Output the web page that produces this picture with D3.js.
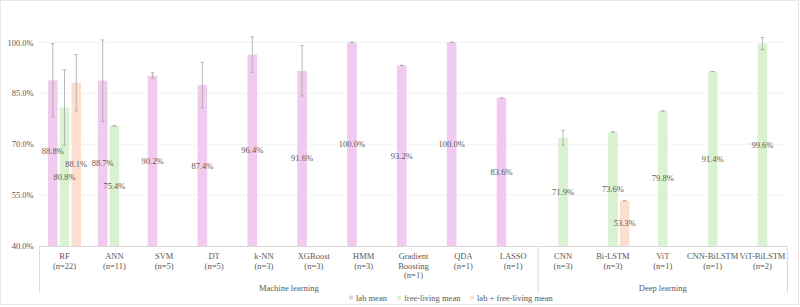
<!DOCTYPE html>
<html>
<head>
<meta charset="utf-8">
<script src="https://cdn.jsdelivr.net/npm/d3@7"></script>
<style>
  body { margin: 0; background: #fff; }
  svg text { font-family: "Liberation Serif", "Times New Roman", serif; fill: #595959; }
</style>
</head>
<body>
<div id="chart"></div>
<script>
// Categories (multi-level axis)
const categories = ["RF", "ANN", "SVM", "DT", "k-NN", "XGBoost", "HMM", "Gradient Boosting", "QDA", "LASSO",
                    "CNN", "Bi-LSTM", "ViT", "CNN-BiLSTM", "ViT-BiLSTM"];
const categoryLines = [["RF", "(n=22)"], ["ANN", "(n=11)"], ["SVM", "(n=5)"], ["DT", "(n=5)"], ["k-NN", "(n=3)"],
                       ["XGBoost", "(n=3)"], ["HMM", "(n=3)"], ["Gradient", "Boosting", "(n=1)"], ["QDA", "(n=1)"],
                       ["LASSO", "(n=1)"], ["CNN", "(n=3)"], ["Bi-LSTM", "(n=3)"], ["ViT", "(n=1)"],
                       ["CNN-BiLSTM", "(n=1)"], ["ViT-BiLSTM", "(n=2)"]];
const groups = [
  { name: "Machine learning", first: "RF", last: "LASSO" },
  { name: "Deep learning", first: "CNN", last: "ViT-BiLSTM" }
];

// Series values (null = no bar)
const labMean   = [88.8, 88.7, 90.2, 87.4, 96.4, 91.6, 100.0, 93.2, 100.0, 83.6, null, null, null, null, null];
const labErr    = [10.8, 12.0, 0.8, 6.7, 5.2, 7.4, 0, 0, 0, 0, null, null, null, null, null];
const freeMean  = [80.8, 75.4, null, null, null, null, null, null, null, null, 71.9, 73.6, 79.8, 91.4, 99.6];
const freeErr   = [11.1, 0, null, null, null, null, null, null, null, null, 2.2, 0, 0, 0, 1.8];
const bothMean  = [88.1, null, null, null, null, null, null, null, null, null, null, 53.3, null, null, null];
const bothErr   = [8.3, null, null, null, null, null, null, null, null, null, null, 0, null, null, null];

const yTicks = [40, 55, 70, 85, 100];

const seriesKeys = ["lab", "free", "both"];
const seriesNames = { lab: "lab mean", free: "free-living mean", both: "lab + free-living mean" };
const colors = { lab: "#f1cbef", free: "#d9f2d1", both: "#fcdfcf" };
const seriesData = { lab: [labMean, labErr], free: [freeMean, freeErr], both: [bothMean, bothErr] };

const W = 800, H = 307;
const plot = { left: 39.6, right: 787.4, top: 42.3, bottom: 246 };
const fontSize = "8.5px";

const svg = d3.select("#chart").append("svg")
    .attr("width", W).attr("height", H)
    .style("font-family", "'Liberation Serif', 'Times New Roman', serif");

// chart border
svg.append("rect")
    .attr("x", 0.5).attr("y", 0.5).attr("width", W - 2).attr("height", H - 3)
    .attr("fill", "#fff").attr("stroke", "#e6e6e6");

const x = d3.scaleBand().domain(categories).range([plot.left, plot.right]).padding(0);
const bw = x.bandwidth();
const x1 = d3.scaleBand().domain(seriesKeys).range([bw / 2 - 16.5, bw / 2 + 16.5]).paddingInner(0.18);

const y = d3.scaleLinear().domain([40, 100]).range([plot.bottom, plot.top]);

// gridlines
svg.append("g")
  .selectAll("line").data(yTicks.slice(1)).join("line")
    .attr("x1", plot.left).attr("x2", plot.right)
    .attr("y1", d => y(d)).attr("y2", d => y(d))
    .attr("stroke", "#f2f2f2").attr("stroke-width", 1);

// y axis labels
const yAxis = d3.axisLeft(y).tickValues(yTicks).tickFormat(d => d.toFixed(1) + "%").tickSize(0).tickPadding(6);
svg.append("g")
    .attr("transform", `translate(${plot.left},0)`)
    .call(yAxis)
    .attr("font-family", null)
    .call(g => g.select(".domain").remove())
    .call(g => g.selectAll("text").style("font-size", fontSize).attr("fill", "#595959"));

// bars
const rows = [];
seriesKeys.forEach(k => {
  const [vals, errs] = seriesData[k];
  vals.forEach((v, i) => {
    if (v != null) rows.push({ key: k, cat: categories[i], value: v, err: errs[i] });
  });
});

svg.append("g").selectAll("rect").data(rows).join("rect")
    .attr("x", d => x(d.cat) + x1(d.key))
    .attr("width", x1.bandwidth())
    .attr("y", d => y(d.value))
    .attr("height", d => plot.bottom - y(d.value))
    .attr("fill", d => colors[d.key]);

// error bars
const errG = svg.append("g").attr("stroke", "#a6a6a6").attr("stroke-width", 0.8);
rows.forEach(d => {
  const cx = x(d.cat) + x1(d.key) + x1.bandwidth() / 2;
  const y0 = y(d.value - d.err), y1 = y(d.value + d.err);
  errG.append("line").attr("x1", cx).attr("x2", cx).attr("y1", y0).attr("y2", y1);
  errG.append("line").attr("x1", cx - 1.8).attr("x2", cx + 1.8).attr("y1", y0).attr("y2", y0);
  errG.append("line").attr("x1", cx - 1.8).attr("x2", cx + 1.8).attr("y1", y1).attr("y2", y1);
});

// value labels (centered in bar; RF lab label nudged up to avoid overlap)
svg.append("g").selectAll("text").data(rows).join("text")
    .attr("x", d => x(d.cat) + x1(d.key) + x1.bandwidth() / 2)
    .attr("y", d => (y(d.value) + plot.bottom) / 2 - (d.cat === "RF" && d.key === "lab" ? 12 : 0))
    .attr("dy", "0.35em")
    .attr("text-anchor", "middle")
    .style("font-size", fontSize)
    .text(d => d.value.toFixed(1) + "%");

// category axis
const axG = svg.append("g").attr("stroke", "#d9d9d9").attr("stroke-width", 1);
axG.append("line").attr("x1", plot.left).attr("x2", plot.right)
    .attr("y1", plot.bottom + 0.5).attr("y2", plot.bottom + 0.5);
[plot.left, x(groups[1].first), plot.right].forEach(b => {
  axG.append("line").attr("x1", b).attr("x2", b)
      .attr("y1", plot.bottom).attr("y2", 293);
});

const catG = svg.append("g");
categories.forEach((c, i) => {
  const t = catG.append("text")
      .attr("x", x(c) + bw / 2).attr("y", 259)
      .attr("text-anchor", "middle").style("font-size", fontSize);
  categoryLines[i].forEach((line, j) => {
    t.append("tspan").attr("x", x(c) + bw / 2).attr("dy", j === 0 ? 0 : 9.5).text(line);
  });
});

// group labels
svg.append("g").selectAll("text").data(groups).join("text")
    .attr("x", g => (x(g.first) + x(g.last) + bw) / 2)
    .attr("y", 291)
    .attr("text-anchor", "middle").style("font-size", fontSize)
    .text(g => g.name);

// legend
const legendX = [349, 397, 470];
const leg = svg.append("g").attr("transform", "translate(0,298)");
seriesKeys.forEach((k, i) => {
  leg.append("rect").attr("x", legendX[i]).attr("y", -2.5).attr("width", 4).attr("height", 4).attr("fill", colors[k]);
  leg.append("text").attr("x", legendX[i] + 7).attr("y", 0).attr("dy", "0.33em")
      .style("font-size", fontSize).text(seriesNames[k]);
});
</script>
</body>
</html>
